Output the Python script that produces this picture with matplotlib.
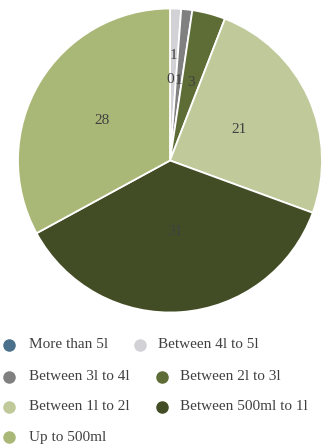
import matplotlib.pyplot as plt
from matplotlib.lines import Line2D
import numpy as np

categories = ["More than 5l", "Between 4l to 5l", "Between 3l to 4l",
              "Between 2l to 3l", "Between 1l to 2l", "Between 500ml to 1l",
              "Up to 500ml"]
counts = [0, 1, 1, 3, 21, 31, 28]
colors = ["#4a708b", "#d2d2d6", "#808080", "#5e6d36",
          "#c0c99a", "#434d25", "#aab877"]

# radial position of each value label (fraction of radius)
label_r = [0.53, 0.69, 0.53, 0.53, 0.50, 0.47, 0.52]

plt.rcParams["font.family"] = ["Liberation Serif", "DejaVu Serif"]
text_color = "#404040"

fig = plt.figure(figsize=(3.25, 4.47), dpi=100)
ax = fig.add_axes([(170 - 152) / 325, (447 - 160.5 - 152) / 447,
                   304 / 325, 304 / 447])
wedges, _ = ax.pie(counts, colors=colors, startangle=90, counterclock=False,
                   radius=1, wedgeprops=dict(edgecolor="white", linewidth=1.3))
ax.set_xlim(-1, 1)
ax.set_ylim(-1, 1)
ax.set_aspect("equal")
ax.axis("off")

for w, v, r in zip(wedges, counts, label_r):
    ang = np.deg2rad((w.theta1 + w.theta2) / 2)
    ax.text(r * np.cos(ang), r * np.sin(ang), str(v), ha="center",
            va="center", fontsize=11, color=text_color)

# two-column legend laid out like the source
rows_y = [345, 377, 407, 437]
entries = [(0, 0, 9, 29), (1, 0, 140, 158),
           (2, 1, 9, 29), (3, 1, 162, 180),
           (4, 2, 9, 29), (5, 2, 162, 180),
           (6, 3, 9, 29)]
for idx, row, mx, tx in entries:
    y = 1 - rows_y[row] / 447
    fig.add_artist(Line2D([mx / 325], [y], marker="o", markersize=8,
                          color=colors[idx], linestyle="none",
                          transform=fig.transFigure))
    fig.text(tx / 325, y, categories[idx], ha="left", va="center",
             fontsize=11, color=text_color)

fig.savefig("out.png", dpi=100)
